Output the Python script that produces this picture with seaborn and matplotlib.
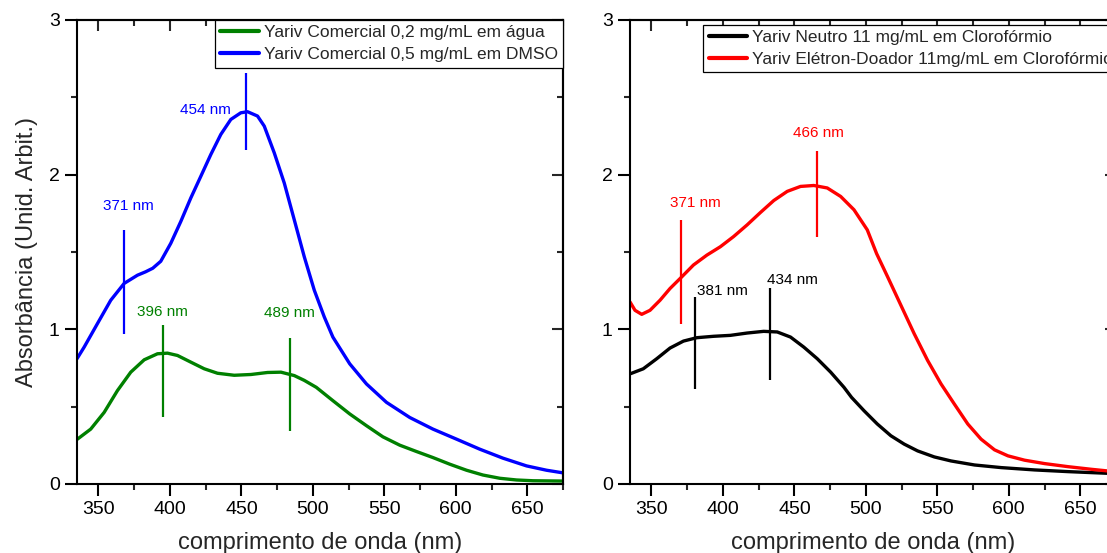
import numpy as np
import pandas as pd
import seaborn as sns
import matplotlib
matplotlib.use("Agg")
import matplotlib.pyplot as plt
from matplotlib.ticker import MultipleLocator

# ---------------- data ----------------
green_x = [335.3, 344.6, 354, 363.3, 372.6, 382, 391.3, 398.3, 405.3, 414.6, 424, 433.3, 445,
           456.7, 468.3, 477.7, 487, 494, 502.4, 514, 525.8, 537.5, 549, 560.8, 572.5, 584,
           595.8, 607.5, 619, 630.8, 642.5, 654, 675]
green_y = [0.29, 0.355, 0.463, 0.604, 0.723, 0.803, 0.842, 0.846, 0.831, 0.788, 0.745, 0.716, 0.703,
           0.708, 0.721, 0.723, 0.701, 0.67, 0.625, 0.539, 0.453, 0.377, 0.305, 0.251, 0.21, 0.171,
           0.128, 0.089, 0.058, 0.037, 0.026, 0.021, 0.019]

blue_x = [335, 340, 349.3, 358.6, 368, 377.3, 383, 388, 393.6, 400.6, 407.6, 414.6, 421.6, 428.6,
          435.6, 442.6, 449.6, 454.3, 461.3, 466, 473, 480, 487, 494, 501, 508, 514, 525.8,
          537.5, 551.5, 567.8, 584, 600.5, 616.8, 633, 649.5, 663.5, 675]
blue_y = [0.81, 0.885, 1.037, 1.188, 1.297, 1.35, 1.372, 1.395, 1.44, 1.556, 1.697, 1.849, 1.989, 2.13,
          2.26, 2.357, 2.40, 2.407, 2.379, 2.314, 2.141, 1.946, 1.708, 1.469, 1.253, 1.08, 0.95, 0.777,
          0.647, 0.528, 0.43, 0.355, 0.29, 0.225, 0.167, 0.117, 0.089, 0.072]

black_x = [335, 344.3, 353.7, 363, 372.4, 381.8, 393.5, 405.2, 416.9, 428.5, 438, 447.3, 456.6,
           466, 475.4, 484.7, 490, 498.7, 508, 517.5, 526.8, 536.2, 547.9, 559.6, 576, 594.7,
           618, 641.5, 669.6, 675]
black_y = [0.712, 0.745, 0.81, 0.879, 0.924, 0.946, 0.955, 0.961, 0.976, 0.987, 0.983, 0.95, 0.885,
           0.81, 0.723, 0.625, 0.56, 0.474, 0.388, 0.312, 0.258, 0.214, 0.175, 0.149, 0.123, 0.106,
           0.091, 0.08, 0.069, 0.068]

red_x = [335, 338.5, 343.2, 349, 356, 363, 371.3, 379.4, 388.8, 398.2, 407.5, 416.9, 426.2,
         435.6, 445, 454.3, 463.6, 473, 482.4, 491.7, 501, 507.5, 515.2, 524.5, 533.8, 543.2,
         552.6, 561.9, 571.3, 580.6, 590, 599.4, 611, 625, 641.5, 657.8, 669.6, 675]
red_y = [1.177, 1.123, 1.097, 1.123, 1.188, 1.264, 1.34, 1.416, 1.48, 1.534, 1.6, 1.675, 1.755,
         1.833, 1.892, 1.924, 1.93, 1.914, 1.859, 1.773, 1.643, 1.49, 1.34, 1.156, 0.972, 0.799,
         0.647, 0.517, 0.388, 0.29, 0.221, 0.182, 0.154, 0.132, 0.112, 0.095, 0.084, 0.081]

labels_left = ["Yariv Comercial 0,2 mg/mL em água", "Yariv Comercial 0,5 mg/mL em DMSO"]
labels_right = ["Yariv Neutro 11 mg/mL em Clorofórmio", "Yariv Elétron-Doador 11mg/mL em Clorofórmio"]

# peak markers: (line x, y bottom, y top, text, text x, text y)
peaks_green = [(395.5, 0.43, 1.026, "396 nm", 394.8, 1.112), (484, 0.344, 0.944, "489 nm", 483.5, 1.106)]
peaks_blue = [(368, 0.972, 1.643, "371 nm", 371, 1.80), (453.3, 2.162, 2.66, "454 nm", 425, 2.417)]
peaks_red = [(370.8, 1.037, 1.708, "371 nm", 380.6, 1.82), (466, 1.60, 2.15, "466 nm", 467, 2.27)]
peaks_black = [(380.6, 0.615, 1.21, "381 nm", 382.2, 1.249), (433.2, 0.673, 1.27, "434 nm", 431, 1.32)]

xlabel = "comprimento de onda (nm)"
ylabel = "Absorbância (Unid. Arbit.)"

# ---------------- style ----------------
sns.set_style("ticks")
plt.rcParams['font.family'] = ['Liberation Sans', 'DejaVu Sans']
plt.rcParams['axes.linewidth'] = 1.5

GREEN = "#008000"
BLUE = "#0000FF"
RED = "#FF0000"
BLACK = "#000000"

fig = plt.figure(figsize=(11.07, 5.53), dpi=100)
W, H = 1107, 553
axL = fig.add_axes([77 / W, (H - 484) / H, 486 / W, 464 / H])
axR = fig.add_axes([630 / W, (H - 484) / H, 486 / W, 464 / H])


def curve(ax, x, y, color, label):
    df = pd.DataFrame({"x": x, "y": y})
    sns.lineplot(data=df, x="x", y="y", ax=ax, color=color, lw=2.4, label=label,
                 estimator=None, sort=False)
    ax.lines[-1].set_solid_joinstyle("round")


def peaks(ax, items, color, ha="center"):
    for px, y0, y1, txt, tx, ty in items:
        ax.plot([px, px], [y0, y1], color=color, lw=1.6, solid_capstyle="butt")
        ax.text(tx, ty, txt, color=color, fontsize=11, ha=ha, va="center")


curve(axL, green_x, green_y, GREEN, labels_left[0])
curve(axL, blue_x, blue_y, BLUE, labels_left[1])
peaks(axL, peaks_green, GREEN)
peaks(axL, peaks_blue, BLUE)

curve(axR, black_x, black_y, BLACK, labels_right[0])
curve(axR, red_x, red_y, RED, labels_right[1])
peaks(axR, peaks_red, RED)
peaks(axR, peaks_black, BLACK, ha="left")

for ax in (axL, axR):
    ax.set_xlim(335, 675)
    ax.set_ylim(0, 3)
    ax.xaxis.set_major_locator(MultipleLocator(50))
    ax.xaxis.set_minor_locator(MultipleLocator(25))
    ax.yaxis.set_major_locator(MultipleLocator(1))
    ax.yaxis.set_minor_locator(MultipleLocator(0.5))
    ax.tick_params(which="major", direction="out", length=8.5, width=1.5, labelsize=14,
                   colors="black", pad=4)
    ax.tick_params(which="minor", direction="out", length=4, width=1.5)
    ax.set_xlabel(xlabel, fontsize=17, labelpad=10)
    for s in ax.spines.values():
        s.set_visible(True)
        s.set_color("black")
        s.set_linewidth(1.5)
    top = ax.secondary_xaxis("top")
    top.xaxis.set_major_locator(MultipleLocator(50))
    top.xaxis.set_minor_locator(MultipleLocator(25))
    top.tick_params(which="major", direction="in", length=8, width=1.5, labeltop=False)
    top.tick_params(which="minor", direction="in", length=4, width=1.5)
    top.spines["top"].set_linewidth(1.5)
    right = ax.secondary_yaxis("right")
    right.yaxis.set_major_locator(MultipleLocator(1))
    right.yaxis.set_minor_locator(MultipleLocator(0.5))
    right.tick_params(which="major", direction="in", length=8, width=1.5, labelright=False)
    right.tick_params(which="minor", direction="in", length=4, width=1.5)
    right.spines["right"].set_linewidth(1.5)

axL.set_ylabel(ylabel, fontsize=17, labelpad=8)
axR.set_ylabel("")

leg_kw = dict(fontsize=12.5, frameon=True, fancybox=False, edgecolor="black", framealpha=1,
              handlelength=2.2, handletextpad=0.3, borderpad=0.3, labelspacing=0.4,
              borderaxespad=0)
legL = axL.legend(loc="upper right", bbox_to_anchor=(1.0, 1.0), **leg_kw)
legR = axR.legend(loc="upper left", bbox_to_anchor=(0.151, 0.99), **leg_kw)
for leg in (legL, legR):
    leg.get_frame().set_linewidth(0.9)
    for l in leg.get_lines():
        l.set_linewidth(3)

fig.savefig("out.png", dpi=100)
